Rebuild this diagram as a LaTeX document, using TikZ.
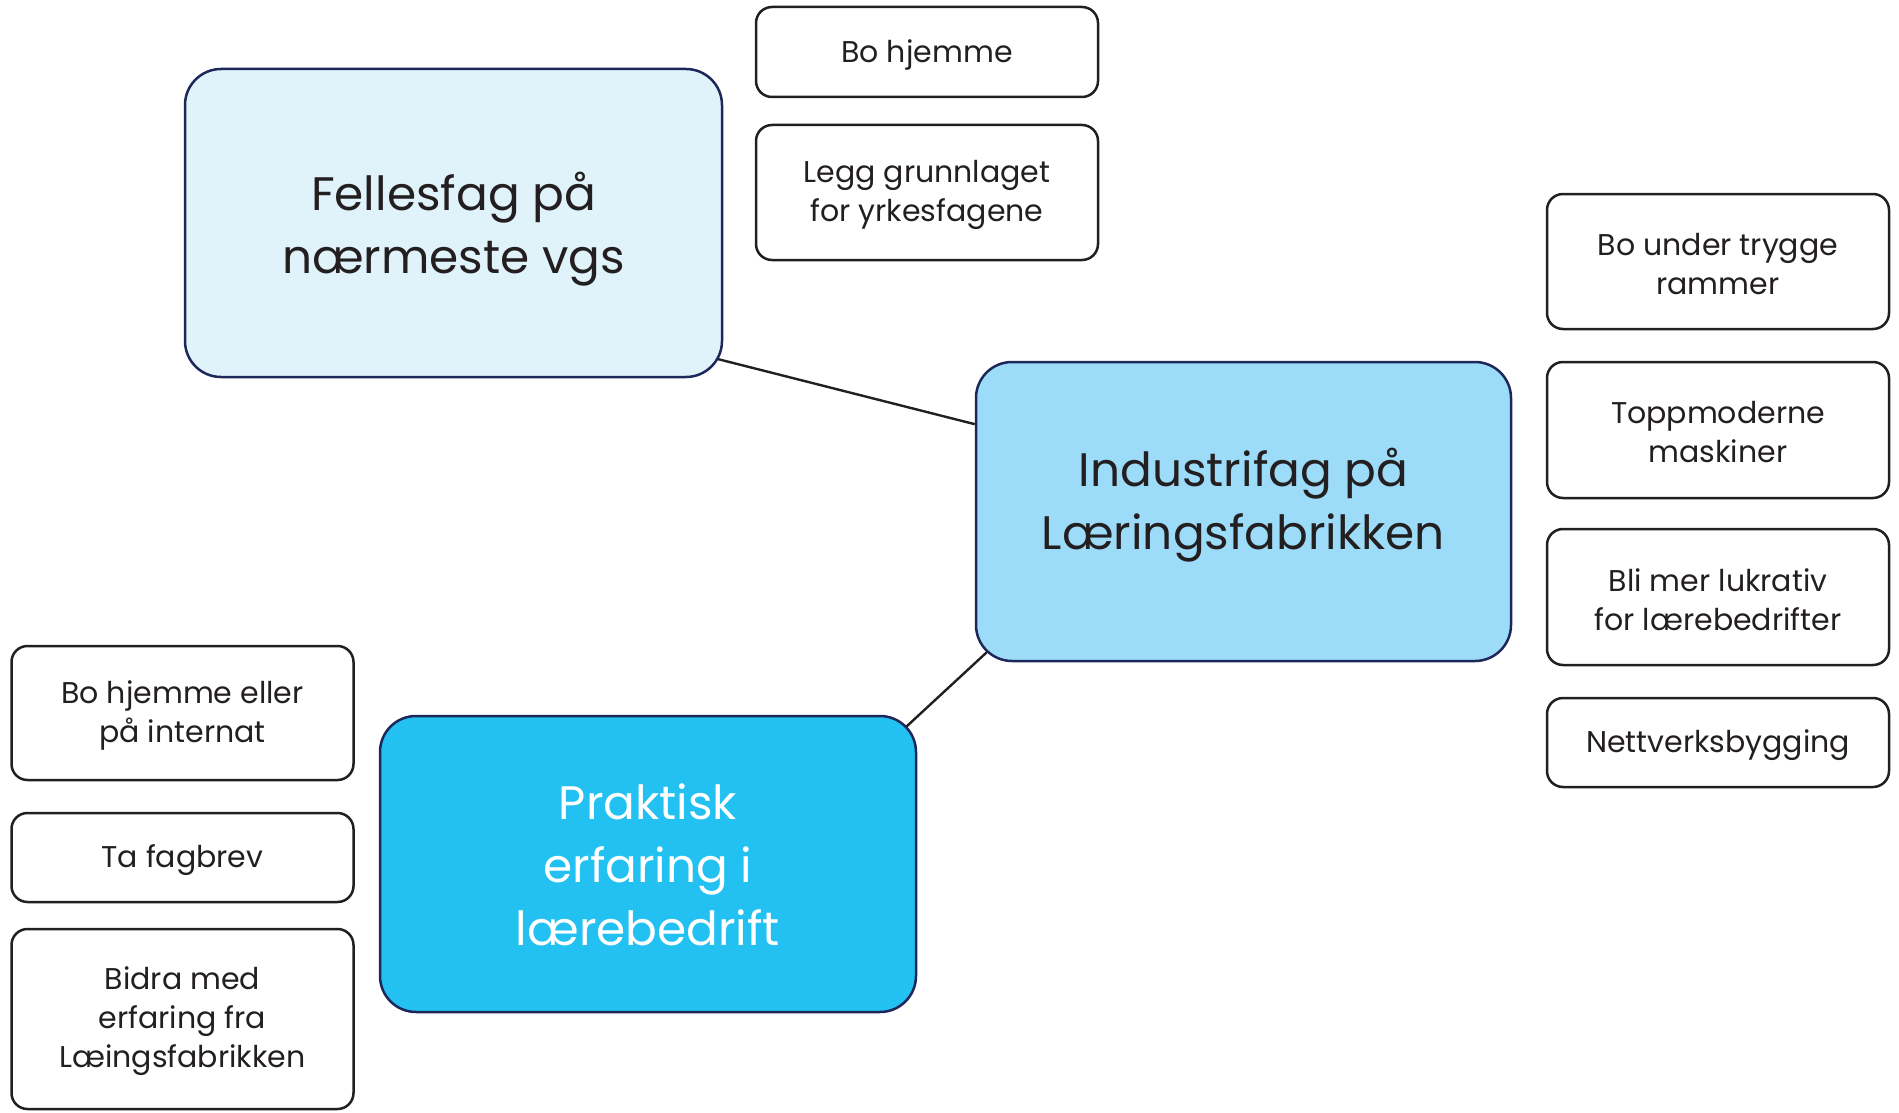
\documentclass[tikz,border=0pt]{standalone}
\usepackage{fontspec}
\setmainfont{Poppins}
\usetikzlibrary{backgrounds,calc}
\definecolor{navy}{HTML}{1E2759}
\definecolor{ink}{HTML}{231F20}
\definecolor{fellfill}{HTML}{E0F3FB}
\definecolor{indfill}{HTML}{9DDCF8}
\definecolor{prakfill}{HTML}{22C1F1}
\tikzset{
  bigbox/.style={draw=navy, line width=2.5pt, rounded corners=36pt, minimum width=537pt, inner sep=0pt},
  bigtext/.style={inner sep=0pt, align=center, font=\fontsize{47}{63}\selectfont, text=ink},
  smallbox/.style={draw=ink, fill=white, line width=2.5pt, rounded corners=16pt, minimum width=342pt, inner sep=0pt},
  smalltext/.style={inner sep=0pt, align=center, font=\fontsize{30}{39}\selectfont, text=ink},
  conn/.style={draw=ink, line width=2.4pt}
}
\begin{document}
\begin{tikzpicture}[x=1pt,y=-1pt]
\useasboundingbox (0,0) rectangle (1899,1113);
% big nodes
\node[bigbox, fill=fellfill, minimum height=308pt] (fell) at (453.5,223) {};
\node[bigtext] (felltxt) at ([yshift=-6pt]fell.center) {Fellesfag på\\nærmeste vgs};
\node[bigbox, fill=indfill, minimum width=535pt, minimum height=299pt] (ind) at (1243.5,511.5) {};
\node[bigtext] (indtxt) at ([yshift=6pt]ind.center) {Industrifag på\\Læringsfabrikken};
\node[bigbox, fill=prakfill, minimum width=536pt, minimum height=296pt] (prak) at (648,864) {};
\node[bigtext, text=white] (praktxt) at ([yshift=-1pt]prak.center) {Praktisk\\erfaring i\\lærebedrift};
% small nodes
\node[smallbox, minimum height=90pt] (bo1) at (927,52) {};
\node[smalltext] (bo1txt) at ([yshift=-2.5pt]bo1.center) {Bo hjemme};
\node[smallbox, minimum height=135pt] (legg) at (927,192.5) {};
\node[smalltext] (leggtxt) at ([yshift=-2.5pt]legg.center) {Legg grunnlaget\\for yrkesfagene};
\node[smallbox, minimum height=135pt] (trygg) at (1718,261.5) {};
\node[smalltext] (tryggtxt) at ([yshift=-2.5pt]trygg.center) {Bo under trygge\\rammer};
\node[smallbox, minimum height=136pt] (topp) at (1718,430) {};
\node[smalltext] (topptxt) at ([yshift=-2.5pt]topp.center) {Toppmoderne\\maskiner};
\node[smallbox, minimum height=136pt] (bli) at (1718,597) {};
\node[smalltext] (blitxt) at ([yshift=-2.5pt]bli.center) {Bli mer lukrativ\\for lærebedrifter};
\node[smallbox, minimum height=89pt] (nett) at (1718,742.5) {};
\node[smalltext] (netttxt) at ([yshift=-2.5pt]nett.center) {Nettverksbygging};
\node[smallbox, minimum height=134pt] (bohe) at (182.5,713) {};
\node[smalltext] (bohetxt) at ([yshift=-2.5pt]bohe.center) {Bo hjemme eller\\på internat};
\node[smallbox, minimum height=89pt] (fag) at (182.5,857.5) {};
\node[smalltext] (fagtxt) at ([yshift=-2.5pt]fag.center) {Ta fagbrev};
\node[smallbox, minimum height=180pt] (bidra) at (182.5,1019) {};
\node[smalltext] (bidratxt) at ([yshift=-2.5pt]bidra.center) {Bidra med\\erfaring fra\\Læingsfabrikken};
% connectors
\begin{scope}[on background layer]
\draw[conn] (ind.162.7) -- ($(ind.162.7)!1.1!(fell.-27.5)$);
\draw[conn] ([xshift=-20pt,yshift=-20.3pt]prak.north east) -- ([xshift=21pt,yshift=18.3pt]ind.south west);
\end{scope}
\end{tikzpicture}
\end{document}
